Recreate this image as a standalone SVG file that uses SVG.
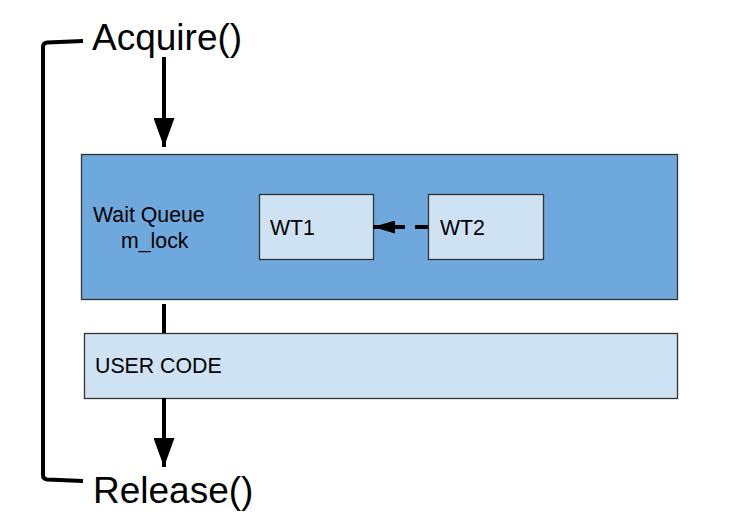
<svg xmlns="http://www.w3.org/2000/svg" width="737" height="531" viewBox="0 0 737 531">
<defs>
<style>
.lbl{font-family:"Liberation Sans",Arial,sans-serif;fill:#000}
.big{font-size:37px}
.sm{font-size:21.3px}
.box{stroke:#333;stroke-width:1.3}
.conn{fill:none;stroke:#000;stroke-width:4}
</style>
<marker id="ah" viewBox="0 0 29 21" refX="29" refY="10.5" markerWidth="29" markerHeight="21" markerUnits="userSpaceOnUse" orient="auto">
<path d="M0,0 L29,10.5 L0,21 Z" fill="#000"/>
</marker>
<marker id="ahs" viewBox="0 0 22 13" refX="22" refY="6.5" markerWidth="22" markerHeight="13" markerUnits="userSpaceOnUse" orient="auto">
<path d="M0,0 L22,6.5 L0,13 Z" fill="#000"/>
</marker>
</defs>
<rect width="737" height="531" fill="#fff"/>
<g id="waitqueue">
<rect class="box" x="81.5" y="154.5" width="596" height="145" fill="#6fa8dc"/>
<text class="lbl sm" x="93" y="222">Wait Queue</text>
<text class="lbl sm" x="121" y="248">m_lock</text>
</g>
<g id="wt1">
<rect class="box" x="259.5" y="194.5" width="114" height="65" fill="#cfe2f3"/>
<text class="lbl sm" x="270" y="235">WT1</text>
</g>
<g id="wt2">
<rect class="box" x="428.5" y="194.5" width="115" height="65" fill="#cfe2f3"/>
<text class="lbl sm" x="440" y="235">WT2</text>
</g>
<g id="usercode">
<rect class="box" x="84.5" y="333.5" width="593" height="65" fill="#cfe2f3"/>
<text class="lbl sm" x="95" y="373">USER CODE</text>
</g>
<g id="acquire">
<text class="lbl big" x="92" y="50">Acquire()</text>
</g>
<g id="release">
<text class="lbl big" x="93" y="503">Release()</text>
</g>
<g id="connectors">
<path class="conn" d="M83,41 L47,42.5 Q43,43 43,47 L43,475 Q43,479 47,479.5 L83,481"/>
<path class="conn" d="M164,57 L164,147" marker-end="url(#ah)"/>
<path class="conn" d="M164,304 L164,333"/>
<path class="conn" d="M164,398 L164,467" marker-end="url(#ah)"/>
<path class="conn" d="M428,227 L373,227" stroke-width="3.5" stroke-dasharray="13,10" marker-end="url(#ahs)"/>
</g>
</svg>
